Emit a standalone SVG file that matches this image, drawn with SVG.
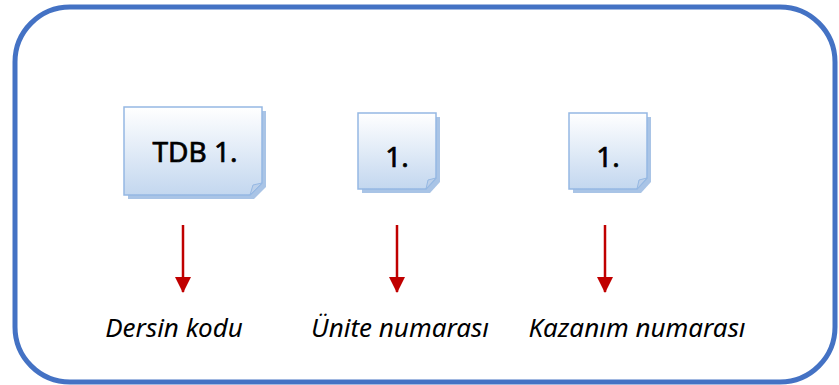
<svg xmlns="http://www.w3.org/2000/svg" width="839" height="385" viewBox="0 0 839 385">
<defs>
<linearGradient id="g" x1="0" y1="0" x2="0" y2="1">
<stop offset="0" stop-color="#ffffff"/>
<stop offset="1" stop-color="#c3d7ef"/>
</linearGradient>
<marker id="ah" markerWidth="16" markerHeight="16" refX="15" refY="8" orient="auto" markerUnits="userSpaceOnUse" viewBox="0 0 16 16">
<path d="M0,0 L16,8 L0,16 Z" fill="#c00000"/>
</marker>
<style>
.note{fill:url(#g);stroke:#95b8e3;stroke-width:1.5}
.shadow{fill:#a9c4e6}
.fold{fill:#bcd0ea;stroke:#95b8e3;stroke-width:1}
.lbl{font-family:"Noto Sans","Open Sans",sans-serif;font-size:28px;fill:#000;stroke:#000;stroke-width:0.7;text-anchor:middle}
.cap{font-family:"Noto Sans","Open Sans",sans-serif;font-style:italic;font-size:26px;fill:#000;text-anchor:middle}
.arr{stroke:#c00000;stroke-width:2.5;fill:none}
</style>
</defs>
<rect x="15" y="7" width="820" height="375" rx="55" ry="55" fill="#fff" stroke="#4472c4" stroke-width="5"/>
<g id="node-tdb">
<path class="shadow" d="M128,111 H266 V187 L254,199 H128 Z"/>
<path class="note" d="M124,107 H262 V183 L250,195 H124 Z"/>
<path class="fold" d="M250,195 L253,185 L262,183 Z"/>
<text class="lbl" x="195" y="162">TDB 1.</text>
</g>
<g id="node-unite">
<path class="shadow" d="M362,117 H440 V182 L430,193 H362 Z"/>
<path class="note" d="M358,113 H436 V178 L426,189 H358 Z"/>
<path class="fold" d="M426,189 L428,180 L436,178 Z"/>
<text class="lbl" x="397" y="167">1.</text>
</g>
<g id="node-kazanim">
<path class="shadow" d="M573,117 H651 V182 L641,193 H573 Z"/>
<path class="note" d="M569,113 H647 V178 L637,189 H569 Z"/>
<path class="fold" d="M637,189 L639,180 L647,178 Z"/>
<text class="lbl" x="608" y="167">1.</text>
</g>
<g id="connectors">
<line class="arr" x1="183" y1="225" x2="183" y2="292" marker-end="url(#ah)"/>
<line class="arr" x1="397" y1="225" x2="397" y2="292" marker-end="url(#ah)"/>
<line class="arr" x1="605" y1="225" x2="605" y2="292" marker-end="url(#ah)"/>
</g>
<g id="captions">
<text class="cap" x="174" y="337">Dersin kodu</text>
<text class="cap" x="400" y="337">Ünite numarası</text>
<text class="cap" x="637" y="337">Kazanım numarası</text>
</g>
</svg>
